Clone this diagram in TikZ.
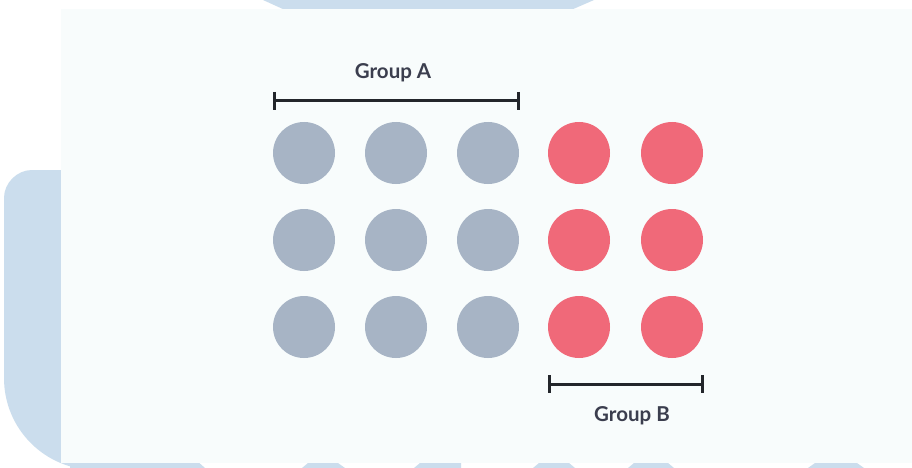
\documentclass[tikz,border=0pt]{standalone}
\usepackage{fontspec}
\setmainfont{Lato}
\definecolor{frameblue}{HTML}{CBDDED}
\definecolor{panelbg}{HTML}{F8FCFC}
\definecolor{dotgray}{HTML}{A7B4C5}
\definecolor{dotred}{HTML}{F06979}
\definecolor{barcol}{HTML}{23262B}
\definecolor{labcol}{HTML}{3B3E4E}
\tikzset{
  dotA/.style={circle, fill=dotgray, minimum size=62pt, inner sep=0pt},
  dotB/.style={circle, fill=dotred, minimum size=62pt, inner sep=0pt},
  barline/.style={draw=barcol, line width=3pt},
  grouplabel/.style={text=labcol, font=\fontsize{20.5}{24}\selectfont\bfseries, inner sep=0pt},
  bump/.style={fill=frameblue}
}
\begin{document}
\begin{tikzpicture}[x=1pt,y=-1pt]
\useasboundingbox (0,0) rectangle (912,468);
\fill[white] (0,0) rectangle (912,468);
% decorative frame
\fill[frameblue] (263,0) -- (594,0) -- (571,10) -- (285,10) -- cycle;
\fill[frameblue] (32,170) -- (90,170) -- (90,470) -- (96,470)
  .. controls (45,470) and (4,429) .. (4,378) -- (4,198)
  .. controls (4,183) and (17,170) .. (32,170) -- cycle;
\fill[frameblue] (70,460) -- (196,460) -- (205,468) -- (70,468) -- cycle;
\fill[bump] (308,463) -- (338,463) -- (345,468) -- (302,468) -- cycle;
\fill[bump] (420,463) -- (461,463) -- (461,468) -- (414,468) -- cycle;
\fill[bump] (539,463) -- (569,463) -- (575,468) -- (533,468) -- cycle;
\fill[bump] (634,463) -- (668,463) -- (674,468) -- (628,468) -- cycle;
\fill[bump] (815,463) -- (857,463) -- (864,468) -- (808,468) -- cycle;
% panel
\fill[panelbg] (61,9) rectangle (912,463);
% dots
\node[dotA] (a11) at (304,153) {};
\node[dotA] (a12) at (396,153) {};
\node[dotA] (a13) at (488,153) {};
\node[dotB] (b11) at (579,153) {};
\node[dotB] (b12) at (672,153) {};
\node[dotA] (a21) at (304,240) {};
\node[dotA] (a22) at (396,240) {};
\node[dotA] (a23) at (488,240) {};
\node[dotB] (b21) at (579,240) {};
\node[dotB] (b22) at (672,240) {};
\node[dotA] (a31) at (304,327) {};
\node[dotA] (a32) at (396,327) {};
\node[dotA] (a33) at (488,327) {};
\node[dotB] (b31) at (579,327) {};
\node[dotB] (b32) at (672,327) {};
% group A bracket
\coordinate (aL) at (274,101);
\coordinate (aR) at (518,101);
\coordinate (aLt) at (274,92);
\coordinate (aLb) at (274,110);
\coordinate (aRt) at (518,92);
\coordinate (aRb) at (518,110);
\draw[barline] (aL) -- (aR);
\draw[barline] (aLt) -- (aLb);
\draw[barline] (aRt) -- (aRb);
\node[grouplabel] (ga) at (393,73) {Group A};
% group B bracket
\coordinate (bL) at (549,384);
\coordinate (bR) at (702,384);
\coordinate (bLt) at (549,375);
\coordinate (bLb) at (549,393);
\coordinate (bRt) at (702,375);
\coordinate (bRb) at (702,393);
\draw[barline] (bL) -- (bR);
\draw[barline] (bLt) -- (bLb);
\draw[barline] (bRt) -- (bRb);
\node[grouplabel] (gb) at (632,416) {Group B};
\end{tikzpicture}
\end{document}
